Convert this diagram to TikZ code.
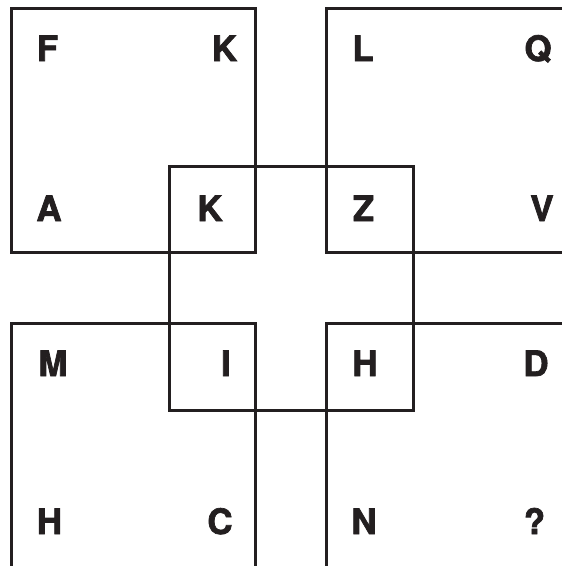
\documentclass[tikz,border=0pt]{standalone}
\usepackage{fontspec}
\setmainfont{TeX Gyre Heros}
\newfontfamily\heavyfont[FakeBold=2]{TeX Gyre Heros Bold}
\definecolor{ink}{HTML}{231F20}
\tikzset{
  sq/.style={draw=ink, line width=3pt},
  lett/.style={anchor=base, inner sep=0pt, text=ink, font=\fontsize{35}{35}\heavyfont}
}
\begin{document}
\begin{tikzpicture}[x=1pt,y=-1pt]
\useasboundingbox (0,0) rectangle (562,566);
\clip (0,0) rectangle (562,566);
\fill[white] (0,0) rectangle (562,566);
% squares
\draw[sq] (11.5,8.5) rectangle (255.5,252);
\draw[sq] (326.5,8.5) rectangle (580,252.5);
\draw[sq] (11.5,323) rectangle (255.5,580);
\draw[sq] (326.5,323) rectangle (580,580);
\draw[sq] (169,166) rectangle (413.5,410);
% letters row 1
\node[lett] (f) at (47.5,61) {F};
\node[lett] (k1) at (224.5,61) {K};
\node[lett] (l) at (363,61) {L};
\node[lett] (q) at (538,61) {Q};
% row 2
\node[lett] (a) at (49,221) {A};
\node[lett] (k2) at (210,221) {K};
\node[lett] (z) at (363.5,221) {Z};
\node[lett] (v) at (542,221) {V};
% row 3
\node[lett] (m) at (53,376) {M};
\node[lett] (i) at (226,376) {I};
\node[lett] (h1) at (365,376) {H};
\node[lett] (d) at (536,376) {D};
% row 4
\node[lett] (h2) at (49.5,534) {H};
\node[lett] (c) at (220,534) {C};
\node[lett] (n) at (364,534) {N};
\node[lett] (qm) at (534.5,534) {?};
\end{tikzpicture}
\end{document}
